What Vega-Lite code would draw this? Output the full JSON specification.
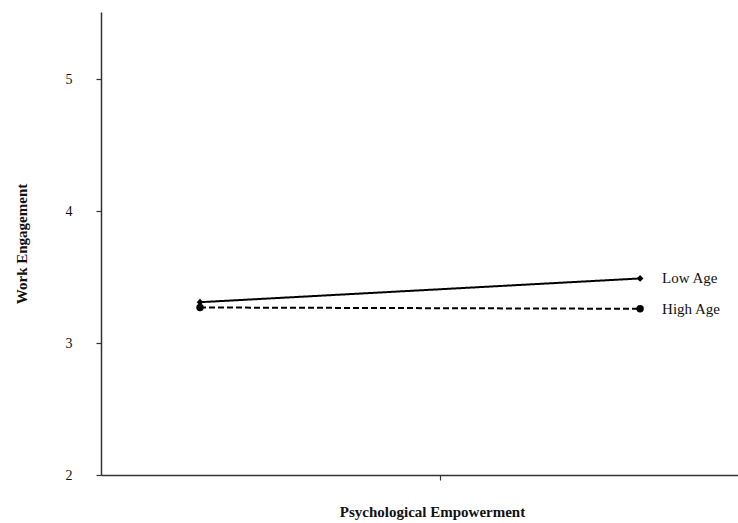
{
  "$schema": "https://vega.github.io/schema/vega-lite/v6.json",
  "autosize": {"type": "none"},
  "padding": {"left": 101, "top": 12, "right": 0, "bottom": 48},
  "width": 637,
  "height": 463,
  "background": "white",
  "config": {
    "view": {"stroke": null},
    "font": "Liberation Serif",
    "axis": {"grid": false, "domainColor": "#333", "tickColor": "#333", "domainWidth": 1.5, "tickWidth": 1.2, "labelFont": "Liberation Serif", "titleFont": "Liberation Serif", "labelColor": "#111", "titleColor": "#111"}
  },
  "data": {
    "values": [
      {"pe": -1, "we": 3.31, "group": "Low Age"},
      {"pe": 1, "we": 3.49, "group": "Low Age"},
      {"pe": -1, "we": 3.27, "group": "High Age"},
      {"pe": 1, "we": 3.26, "group": "High Age"}
    ]
  },
  "layer": [
    {
      "mark": {"type": "line", "color": "black", "strokeWidth": 2},
      "encoding": {
        "x": {"field": "pe", "type": "quantitative", "scale": {"domain": [-1.45, 1.445], "nice": false, "zero": false},
          "axis": {"values": [0.09], "labels": false, "tickSize": 5, "title": "Psychological Empowerment", "titleFontSize": 15, "titleFontWeight": "bold", "titlePadding": 24, "titleX": 331}},
        "y": {"field": "we", "type": "quantitative", "scale": {"domain": [2, 5.51], "nice": false, "zero": false},
          "axis": {"values": [2, 3, 4, 5], "format": "d", "tickSize": 5, "labelFontSize": 14, "labelPadding": 24, "title": "Work Engagement", "titleFontSize": 15, "titleFontWeight": "bold", "titlePadding": 36}},
        "detail": {"field": "group"},
        "strokeDash": {"field": "group", "type": "nominal", "scale": {"domain": ["Low Age", "High Age"], "range": [[1, 0], [6, 3]]}, "legend": null}
      }
    },
    {
      "mark": {"type": "point", "filled": true, "color": "black", "opacity": 1},
      "encoding": {
        "x": {"field": "pe", "type": "quantitative"},
        "y": {"field": "we", "type": "quantitative"},
        "shape": {"field": "group", "type": "nominal", "scale": {"domain": ["Low Age", "High Age"], "range": ["diamond", "circle"]}, "legend": null},
        "size": {"field": "group", "type": "nominal", "scale": {"domain": ["Low Age", "High Age"], "range": [45, 55]}, "legend": null}
      }
    },
    {
      "transform": [{"filter": "datum.pe == 1"}],
      "mark": {"type": "text", "align": "left", "dx": 22, "fontSize": 15, "color": "#111", "font": "Liberation Serif"},
      "encoding": {
        "x": {"field": "pe", "type": "quantitative"},
        "y": {"field": "we", "type": "quantitative"},
        "yOffset": {"field": "group", "type": "nominal", "scale": {"domain": ["Low Age", "High Age"], "range": [-6, 10]}},
        "text": {"field": "group"}
      }
    }
  ]
}
